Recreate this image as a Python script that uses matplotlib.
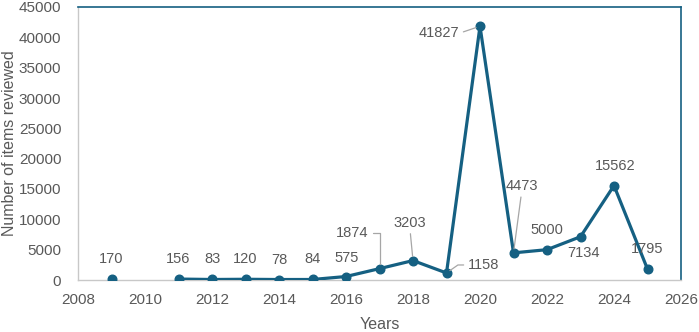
import numpy as np
import matplotlib
matplotlib.use("Agg")
import matplotlib.pyplot as plt

years = [2009, 2010, 2011, 2012, 2013, 2014, 2015, 2016, 2017, 2018, 2019, 2020, 2021, 2022, 2023, 2024, 2025]
items = [170, np.nan, 156, 83, 120, 78, 84, 575, 1874, 3203, 1158, 41827, 4473, 5000, 7134, 15562, 1795]
y_ticks = [0, 5000, 10000, 15000, 20000, 25000, 30000, 35000, 40000, 45000]
x_ticks = [2008, 2010, 2012, 2014, 2016, 2018, 2020, 2022, 2024, 2026]

LINE = "#156082"
TXT = "#595959"
plt.rcParams['font.family'] = ['Liberation Sans', 'DejaVu Sans']

fig = plt.figure(figsize=(6.99, 3.32), dpi=100)
ax = fig.add_axes([78/699, 1-280/332, (681-78)/699, (280-7)/332])

ax.plot(years, items, color=LINE, lw=2.3, marker='o', ms=6.2, zorder=3)

ax.set_xlim(2008, 2026)
ax.set_ylim(0, 45000)
ax.set_xticks(x_ticks)
ax.set_yticks(y_ticks)
ax.tick_params(axis='both', length=0, labelsize=11, labelcolor=TXT)
ax.tick_params(axis='y', pad=12)
ax.tick_params(axis='x', pad=9)

for s in ['left', 'bottom']:
    ax.spines[s].set_color('#c8c8c8')
    ax.spines[s].set_linewidth(1.0)
for s in ['top', 'right']:
    ax.spines[s].set_color(LINE)
    ax.spines[s].set_linewidth(1.2)

ax.set_ylabel("Number of items reviewed", fontsize=11.5, color=TXT)
ax.yaxis.set_label_coords(-61/603, 0.5)
ax.set_xlabel("Years", fontsize=11.5, color=TXT)
ax.xaxis.set_label_coords(0.5, -37/273)

# label offsets in pixels (dx, dy up), and leader-line settings
offsets = {
    2009: (0, 20), 2011: (0, 20), 2012: (0, 20), 2013: (0, 20), 2014: (0, 20),
    2015: (0, 20), 2016: (1, 19), 2017: (-27, 36), 2018: (-3, 38), 2019: (37, 8),
    2020: (-41, -7), 2021: (8, 67), 2022: (0, 20), 2023: (3, -16), 2024: (1, 20),
    2025: (0, 20),
}
leaders = {
    2017: dict(relpos=(1, 0.5), connectionstyle="angle,angleA=0,angleB=90,rad=0"),
    2018: dict(relpos=(0.5, 0)),
    2019: dict(relpos=(0, 0.5), connectionstyle="angle,angleA=180,angleB=35,rad=0"),
    2020: dict(relpos=(1, 0.5)),
    2021: dict(relpos=(0.5, 0)),
}
for yr, v in zip(years, items):
    if np.isnan(v):
        continue
    dx, dy = offsets[yr]
    kw = {}
    if yr in leaders:
        ap = dict(arrowstyle='-', color='#a6a6a6', lw=0.9, shrinkA=1, shrinkB=3)
        ap.update(leaders[yr])
        kw['arrowprops'] = ap
    ax.annotate(str(int(v)), (yr, v), xytext=(dx, dy), textcoords='offset pixels',
                ha='center', va='center', fontsize=10.5, color=TXT, zorder=4,
                annotation_clip=False, **kw)

fig.savefig("out.png", dpi=100)
